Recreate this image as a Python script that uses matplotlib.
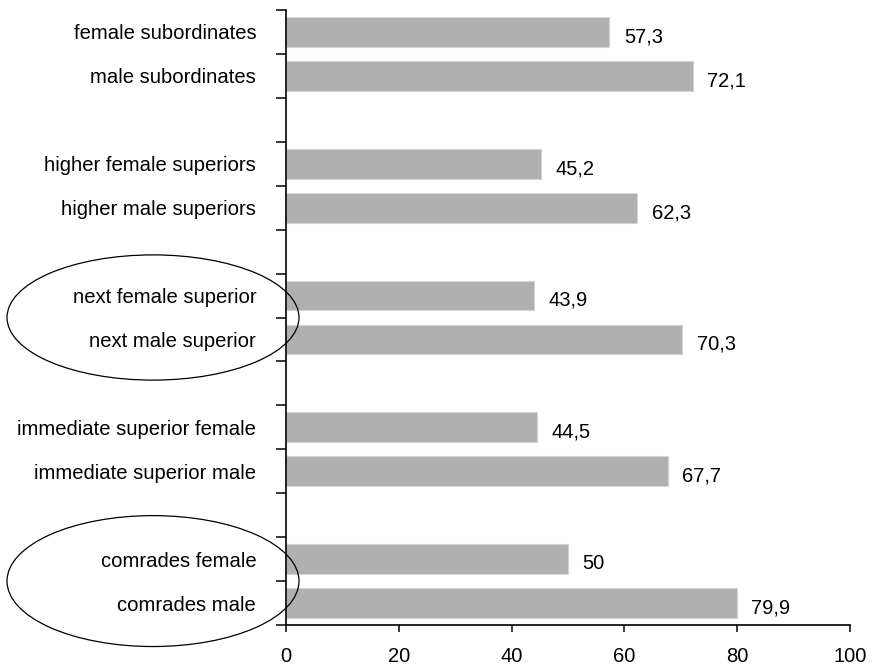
import matplotlib
matplotlib.use("Agg")
import matplotlib.pyplot as plt
from matplotlib.patches import Ellipse
from matplotlib.transforms import blended_transform_factory
from matplotlib.ticker import FixedLocator, NullFormatter

plt.rcParams['font.family'] = ['Liberation Sans', 'DejaVu Sans']

categories = ["female subordinates", "male subordinates",
              "higher female superiors", "higher male superiors",
              "next female superior", "next male superior",
              "immediate superior female", "immediate superior male",
              "comrades female", "comrades male"]
values = [57.3, 72.1, 45.2, 62.3, 43.9, 70.3, 44.5, 67.7, 50, 79.9]
x_ticks = [0, 20, 40, 60, 80, 100]
highlighted_pairs = [2, 4]  # pair indices circled

# pairs separated by an empty category slot
positions = [(i // 2) * 3 + (i % 2) for i in range(len(categories))]
n_slots = positions[-1] + 1

fig = plt.figure(figsize=(8.78, 6.67), dpi=100)
ax = fig.add_axes([286/878, 1 - 625/667, (850-286)/878, (625-10)/667])

ax.barh(positions, values, height=0.68, color='#b0b0b0',
        edgecolor='#d4d4d4', linewidth=0.8)

for p, v in zip(positions, values):
    ax.annotate(f"{v:g}".replace('.', ','), xy=(v, p), xytext=(10.5, -3.5),
                textcoords='offset points', ha='left', va='center',
                fontsize=14.5, color='black')

ax.set_xlim(0, 100)
ax.set_ylim(n_slots - 0.5, -0.5)
ax.set_xticks(x_ticks)
ax.set_xticklabels([str(t) for t in x_ticks], fontsize=14.5)

ax.yaxis.set_major_locator(FixedLocator([i - 0.5 for i in range(n_slots + 1)]))
ax.yaxis.set_major_formatter(NullFormatter())
ax.set_yticks(positions, minor=True)
ax.set_yticklabels(categories, minor=True, fontsize=14.6)
ax.tick_params(axis='y', which='minor', length=0, pad=21.5)
ax.tick_params(axis='y', which='major', length=7.2, width=1.1, direction='out')
ax.tick_params(axis='x', which='major', length=5, width=1.1, direction='out', pad=11)

for s in ['top', 'right']:
    ax.spines[s].set_visible(False)
for s in ['left', 'bottom']:
    ax.spines[s].set_linewidth(1.2)
    ax.spines[s].set_color('black')

trans = blended_transform_factory(fig.transFigure, ax.transData)
for g, h in zip(highlighted_pairs, [2.85, 2.98]):
    yc = g * 3 + 0.5
    e = Ellipse((153/878, yc), width=292/878, height=h, transform=trans,
                fill=False, edgecolor='black', linewidth=0.9, clip_on=False)
    fig.add_artist(e)

fig.savefig("out.png", dpi=100)
